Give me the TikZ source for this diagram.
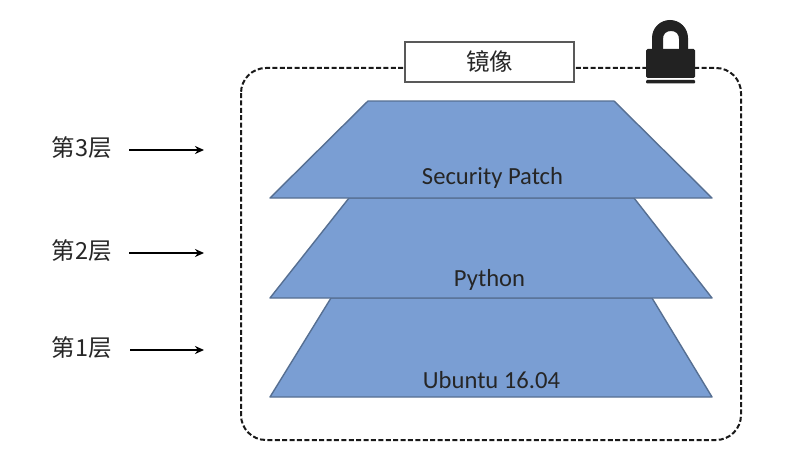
\documentclass[tikz,border=0pt]{standalone}
\usepackage{fontspec}
\setmainfont{Carlito}
\newfontfamily\cjk{Noto Sans CJK SC}
\definecolor{layerfill}{HTML}{7A9ED3}
\definecolor{layerline}{HTML}{566F92}
\definecolor{lockcol}{HTML}{222222}
\definecolor{txt}{HTML}{262626}
\usetikzlibrary{arrows.meta}
\tikzset{
  layer/.style={draw=layerline,line width=1.4pt,fill=layerfill,line join=round},
  layertext/.style={font=\fontsize{24.6}{28}\selectfont,text=txt,inner sep=0pt,anchor=center},
  leveltext/.style={font=\cjk\fontsize{23.5}{28}\selectfont,text=txt,inner sep=0pt,anchor=center},
  levelarrow/.style={-{Stealth[length=9pt,width=8pt]},line width=2.7pt,black},
  framebox/.style={draw=black!90,line width=2pt,dash pattern=on 5pt off 2.4pt,rounded corners=25pt},
  titlebox/.style={draw=black!65,line width=1.3pt,fill=white,minimum width=169pt,minimum height=40pt,inner sep=0pt,font=\cjk\fontsize{23.5}{28}\selectfont,text=txt},
}
\begin{document}
\begin{tikzpicture}[x=1pt,y=-1pt]
\useasboundingbox (0,0) rectangle (790,452);
\fill[white] (0,0) rectangle (790,452);
% frame
\draw[framebox] (241,68) rectangle (741,440);
% title
\node[titlebox] (title) at (489.5,62) {镜像};
% lock
\fill[lockcol,even odd rule]
  (652,50) -- (652,38) .. controls (652,28) and (660,20) .. (670,20) .. controls (680,20) and (688,28) .. (688,38) -- (688,50) -- cycle
  (663,50) -- (663,39) .. controls (663,34) and (666,31) .. (671,31) .. controls (676,31) and (679,34) .. (679,39) -- (679,50) -- cycle;
\fill[white] (645,78) rectangle (696,80);
\fill[lockcol,rounded corners=1.5pt] (646,49) rectangle (695,78);
\fill[lockcol,rounded corners=1pt] (646,80) rectangle (695,83.5);
% layers
\draw[layer] (331,298) -- (652,298) -- (712,397) -- (270,397) -- cycle;
\draw[layer] (349,198) -- (634,198) -- (712,298) -- (270,298) -- cycle;
\draw[layer] (368,101) -- (614,101) -- (712,198) -- (270,198) -- cycle;
\node[layertext] (patch) at (492.5,178) {Security Patch};
\node[layertext] (python) at (489.5,279.5) {Python};
\node[layertext] (ubuntu) at (491.5,380.5) {Ubuntu 16.04};
% levels
\node[leveltext] (l3) at (82,148) {第3层};
\node[leveltext] (l2) at (82,251) {第2层};
\node[leveltext] (l1) at (82,348) {第1层};
\coordinate (a3s) at (129,150); \coordinate (a3e) at (204,150);
\coordinate (a2s) at (129,253); \coordinate (a2e) at (204,253);
\coordinate (a1s) at (130,350); \coordinate (a1e) at (204,350);
\draw[levelarrow] (a3s) -- (a3e);
\draw[levelarrow] (a2s) -- (a2e);
\draw[levelarrow] (a1s) -- (a1e);
\end{tikzpicture}
\end{document}
